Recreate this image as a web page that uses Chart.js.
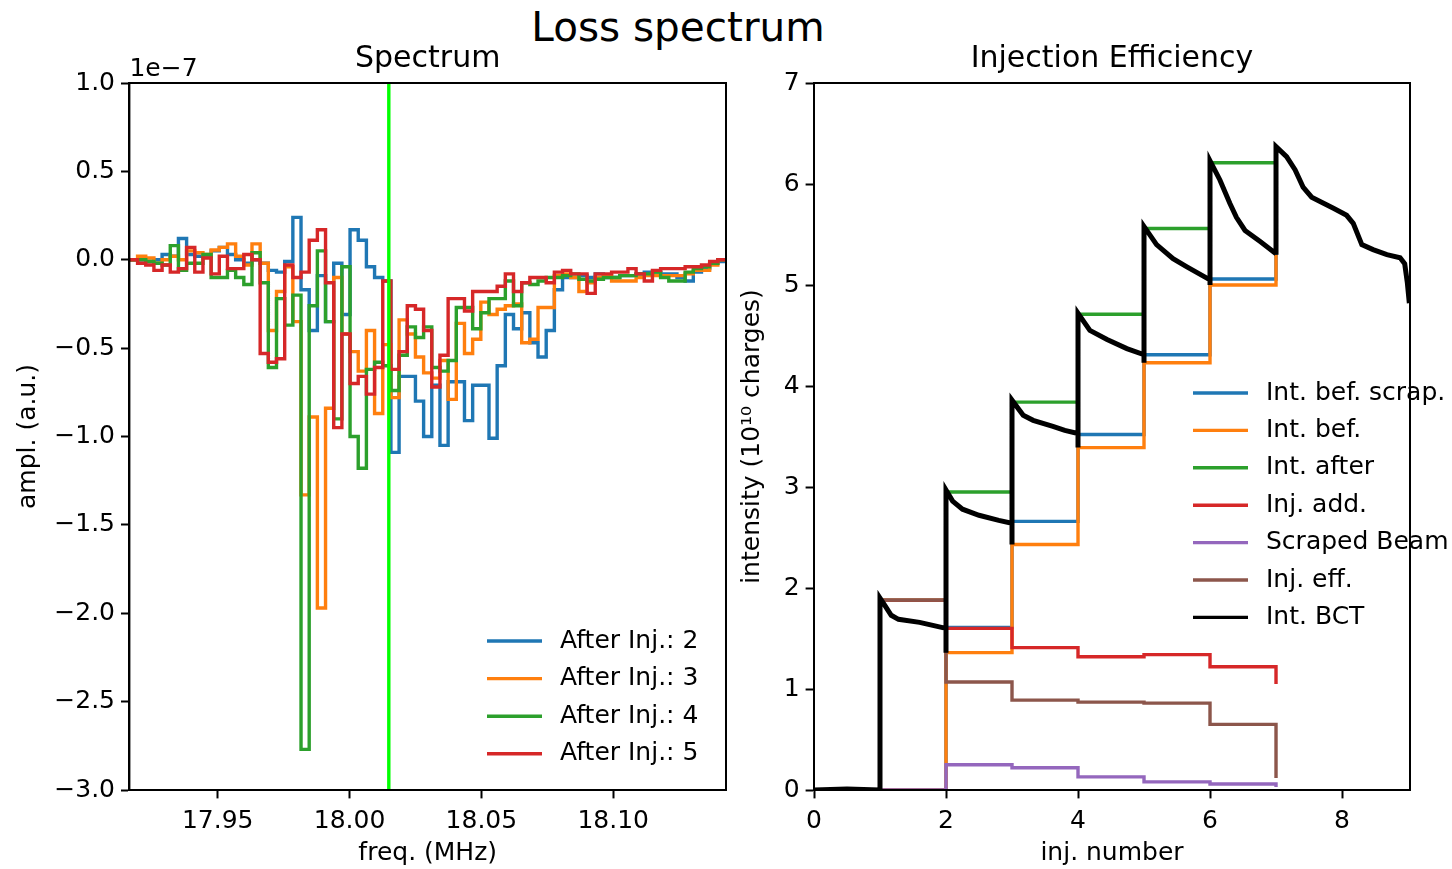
<!DOCTYPE html>
<html>
<head>
<meta charset="utf-8">
<title>Loss spectrum</title>
<script src="https://cdn.jsdelivr.net/npm/chart.js@4.4.0/dist/chart.umd.min.js"></script>
<style>
body { margin: 0; background: #fff; }
#fig { position: relative; width: 1452px; height: 869px; overflow: hidden; font-family: "DejaVu Sans", sans-serif; }
#suptitle { position: absolute; left: 0; top: 7px; width: 1356px; text-align: center; font-size: 40.5px; line-height: 1; color: #000; }
#spec { position: absolute; left: 0; top: 0; }
#inj { position: absolute; left: 720px; top: 0; }
</style>
</head>
<body>
<div id="fig">
  <div id="suptitle">Loss spectrum</div>
  <canvas id="spec" width="730" height="869"></canvas>
  <canvas id="inj" width="732" height="869"></canvas>
</div>
<script>
// ---- spectrum: bin edges (MHz) and amplitudes (units of 1e-7) ----
var freqEdges = [
    17.9165, 17.9196, 17.9227, 17.9258, 17.9289, 17.9320, 17.9351, 17.9382, 17.9413, 17.9444,
    17.9475, 17.9506, 17.9537, 17.9568, 17.9599, 17.9630, 17.9661, 17.9692, 17.9723, 17.9754,
    17.9785, 17.9816, 17.9847, 17.9878, 17.9909, 17.9940, 17.9971, 18.0002, 18.0033, 18.0064,
    18.0095, 18.0126, 18.0157, 18.0188, 18.0219, 18.0250, 18.0281, 18.0312, 18.0343, 18.0374,
    18.0405, 18.0436, 18.0467, 18.0498, 18.0529, 18.0560, 18.0591, 18.0622, 18.0653, 18.0684,
    18.0715, 18.0746, 18.0777, 18.0808, 18.0839, 18.0870, 18.0901, 18.0932, 18.0963, 18.0994,
    18.1025, 18.1056, 18.1087, 18.1118, 18.1149, 18.1180, 18.1211, 18.1242, 18.1273, 18.1304,
    18.1335, 18.1366, 18.1397, 18.1428
];
var ampInj2 = [
    0.00, 0.00, -0.01, 0.00, 0.03, 0.02, 0.12, 0.03, 0.02, 0.02,
    0.05, 0.07, 0.03, 0.00, -0.02, 0.00, -0.02, -0.06, -0.07, -0.01,
    0.24, -0.17, -0.40, -0.09, -0.35, -0.02, -0.31, 0.17, 0.11, -0.04,
    -0.10, -0.12, -1.09, -0.66, -0.66, -0.80, -1.00, -0.71, -1.05, -0.69,
    -0.69, -0.91, -0.71, -0.71, -1.01, -0.60, -0.31, -0.39, -0.30, -0.47,
    -0.55, -0.40, -0.17, -0.10, -0.10, -0.09, -0.10, -0.08, -0.10, -0.10,
    -0.09, -0.09, -0.08, -0.07, -0.07, -0.08, -0.08, -0.10, -0.12, -0.07,
    -0.05, -0.02, -0.01
];
var ampInj3 = [
    0.00, 0.02, 0.01, -0.02, 0.00, 0.02, 0.00, 0.05, 0.04, 0.03,
    0.055, 0.07, 0.09, 0.02, -0.03, 0.09, -0.02, -0.40, -0.18, -0.04,
    -0.35, -1.33, -0.89, -1.97, -0.84, -0.10, -0.42, -0.52, -0.63, -0.40,
    -0.87, -0.48, -0.78, -0.34, -0.42, -0.55, -0.64, -0.67, -0.57, -0.79,
    -0.36, -0.53, -0.45, -0.24, -0.31, -0.28, -0.26, -0.25, -0.47, -0.45,
    -0.27, -0.27, -0.09, -0.08, -0.10, -0.18, -0.13, -0.10, -0.09, -0.12,
    -0.12, -0.12, -0.10, -0.09, -0.09, -0.09, -0.09, -0.09, -0.08, -0.06,
    -0.06, -0.03, 0.00
];
var ampInj4 = [
    0.00, 0.00, -0.01, -0.02, -0.03, 0.08, -0.06, -0.02, -0.02, 0.03,
    -0.10, -0.10, -0.06, -0.10, -0.14, 0.04, -0.13, -0.61, -0.22, -0.37,
    -0.20, -2.77, -0.26, 0.05, -0.35, -0.90, -0.04, -1.00, -1.18, -0.62,
    -0.58, -0.60, -0.74, -0.54, -0.38, -0.44, -0.38, -0.61, -0.63, -0.57,
    -0.27, -0.27, -0.39, -0.30, -0.22, -0.22, -0.12, -0.26, -0.13, -0.14,
    -0.12, -0.10, -0.10, -0.09, -0.08, -0.11, -0.12, -0.11, -0.10, -0.10,
    -0.09, -0.09, -0.08, -0.08, -0.07, -0.10, -0.12, -0.12, -0.07, -0.05,
    -0.04, -0.02, 0.00
];
var ampInj5 = [
    0.00, -0.02, -0.03, -0.06, -0.03, -0.07, -0.05, 0.07, -0.07, 0.01,
    -0.08, 0.02, -0.05, -0.05, 0.03, 0.00, -0.53, -0.58, -0.56, -0.03,
    -0.10, -0.07, 0.11, 0.17, -0.13, -0.95, -0.42, -0.70, -0.66, -0.76,
    -0.61, -0.12, -0.62, -0.52, -0.26, -0.28, -0.40, -0.72, -0.54, -0.22,
    -0.22, -0.29, -0.18, -0.18, -0.18, -0.15, -0.08, -0.18, -0.13, -0.10,
    -0.10, -0.13, -0.07, -0.06, -0.08, -0.08, -0.19, -0.08, -0.08, -0.07,
    -0.07, -0.05, -0.08, -0.12, -0.06, -0.05, -0.05, -0.05, -0.04, -0.04,
    -0.03, -0.01, 0.00
];
var markerFreq = 18.0149;
var specXTicks = [17.95, 18.00, 18.05, 18.10];

// ---- injection efficiency: per-injection steps (1e10 charges) ----
var injNumber = [1, 2, 3, 4, 5, 6, 7];
var intBefScrap = [0, 1.61, 2.66, 3.52, 4.31, 5.06, 5.33];
var intBef      = [0, 1.36, 2.43, 3.39, 4.23, 5.00, 5.30];
var intAfter    = [1.88, 2.95, 3.84, 4.71, 5.56, 6.21, 6.36];
var injAdd      = [1.88, 1.60, 1.41, 1.32, 1.34, 1.22, 1.05];
var scrapedBeam = [0, 0.25, 0.22, 0.13, 0.08, 0.06, 0.03];
var injEff      = [1.88, 1.07, 0.89, 0.87, 0.86, 0.65, 0.12];

// BCT trace
var bctX = [0, 0.5, 1.0, 1.0, 1.08, 1.17, 1.28, 1.6, 1.8, 2.0,
    2.0, 2.0, 2.1, 2.25, 2.5, 2.8, 3.0,
    3.0, 3.0, 3.17, 3.32, 3.62, 3.8, 4.0,
    4.0, 4.0, 4.18, 4.44, 4.74, 5.0,
    5.0, 5.0, 5.19, 5.44, 5.65, 6.0,
    6.0, 6.0, 6.15, 6.3, 6.4, 6.53, 6.76, 7.0,
    7.0, 7.0, 7.16, 7.29, 7.41, 7.54, 7.72, 7.87, 8.07, 8.17, 8.3, 8.47, 8.68, 8.88, 8.95, 8.99, 9.02];
var bctY = [0, 0.01, 0.0, 1.9, 1.82, 1.73, 1.69, 1.66, 1.63, 1.6,
    1.36, 2.97, 2.86, 2.78, 2.72, 2.67, 2.64,
    2.43, 3.86, 3.71, 3.66, 3.6, 3.56, 3.53,
    3.39, 4.72, 4.55, 4.46, 4.37, 4.31,
    4.23, 5.58, 5.4, 5.26, 5.18, 5.05,
    5.0, 6.23, 6.04, 5.81, 5.67, 5.54, 5.43, 5.31,
    5.3, 6.37, 6.27, 6.14, 5.97, 5.87, 5.81, 5.76, 5.69, 5.61, 5.4, 5.35, 5.3, 5.27, 5.21, 5.02, 4.82];
var injXTicks = [0, 2, 4, 6, 8];

var C = {
    blue: '#1f77b4', orange: '#ff7f0e', green: '#2ca02c', red: '#d62728',
    purple: '#9467bd', brown: '#8c564b', black: '#000000', lime: '#00ff00'
};
var LW = 3.4;

Chart.defaults.font.family = '"DejaVu Sans", sans-serif';
Chart.defaults.font.size = 25;
Chart.defaults.color = '#000';

function stepPoints(xs, ys) {
    // one point per bin start, last value carried to the closing edge
    return xs.map(function(x, i) { return { x: x, y: ys[Math.min(i, ys.length - 1)] }; });
}
function zipPoints(xs, ys) {
    return xs.map(function(x, i) { return { x: x, y: ys[i] }; });
}
function minusSign(s) { return String(s).replace('-', '\u2212'); }

// black box around the plot area
var framePlugin = {
    id: 'frame',
    afterDatasetsDraw: function(chart) {
        var a = chart.chartArea, ctx = chart.ctx;
        ctx.save();
        ctx.strokeStyle = '#000';
        ctx.lineWidth = 2;
        ctx.strokeRect(a.left, a.top, a.right - a.left, a.bottom - a.top);
        ctx.restore();
    }
};

// legend: short line sample + label, one row per labelled dataset
var lineLegend = {
    id: 'lineLegend',
    afterDraw: function(chart, args, opts) {
        var ctx = chart.ctx, y = opts.top;
        ctx.save();
        ctx.font = '25px "DejaVu Sans"';
        ctx.textBaseline = 'middle';
        ctx.fillStyle = '#000';
        chart.data.datasets.forEach(function(ds) {
            if (!ds.label) return;
            ctx.strokeStyle = ds.borderColor;
            ctx.lineWidth = opts.lineWidth;
            ctx.beginPath();
            ctx.moveTo(opts.left, y);
            ctx.lineTo(opts.left + opts.lineLen, y);
            ctx.stroke();
            ctx.fillText(ds.label, opts.left + opts.lineLen + opts.gap, y);
            y += opts.rowH;
        });
        ctx.restore();
    }
};

// scale exponent written above the y axis
var offsetText = {
    id: 'offsetText',
    afterDraw: function(chart, args, opts) {
        if (!opts.text) return;
        var ctx = chart.ctx;
        ctx.save();
        ctx.font = '25px "DejaVu Sans"';
        ctx.textBaseline = 'alphabetic';
        ctx.fillStyle = '#000';
        ctx.fillText(opts.text, chart.chartArea.left, opts.y);
        ctx.restore();
    }
};

function axisGrid() {
    return { drawOnChartArea: false, drawTicks: true, tickLength: 8.4, tickWidth: 2, tickColor: '#000' };
}

function lineDs(label, pts, color, width, stepped, order) {
    return {
        label: label, data: pts, borderColor: color, backgroundColor: color,
        borderWidth: width, pointRadius: 0, fill: false, stepped: stepped,
        tension: 0, order: order
    };
}

new Chart(document.getElementById('spec'), {
    type: 'line',
    data: {
        datasets: [
            lineDs('After Inj.: 2', stepPoints(freqEdges, ampInj2), C.blue, LW, true, 4),
            lineDs('After Inj.: 3', stepPoints(freqEdges, ampInj3), C.orange, LW, true, 3),
            lineDs('After Inj.: 4', stepPoints(freqEdges, ampInj4), C.green, LW, true, 2),
            lineDs('After Inj.: 5', stepPoints(freqEdges, ampInj5), C.red, LW, true, 1),
            { data: [{ x: markerFreq, y: -3 }, { x: markerFreq, y: 1 }], borderColor: C.lime,
              borderWidth: 3.4, pointRadius: 0, fill: false, order: 0 }
        ]
    },
    options: {
        responsive: false, animation: false, devicePixelRatio: 1, events: [],
        layout: { padding: { left: 0, right: 4, top: 0, bottom: 0 } },
        plugins: {
            legend: { display: false }, tooltip: { enabled: false },
            title: { display: true, text: 'Spectrum', fullSize: false, color: '#000',
                     font: { size: 30, weight: 'normal' }, padding: { top: 41, bottom: 6 } },
            lineLegend: { left: 487, top: 641, rowH: 37.6, lineLen: 55, gap: 18, lineWidth: LW },
            offsetText: { text: '1e\u22127', y: 76 }
        },
        scales: {
            x: {
                type: 'linear', min: freqEdges[0], max: freqEdges[freqEdges.length - 1],
                grid: axisGrid(), border: { color: '#000', width: 2 },
                afterBuildTicks: function(s) { s.ticks = specXTicks.map(function(v) { return { value: v }; }); },
                afterFit: function(s) { s.height = 79; },
                ticks: { padding: 8, maxRotation: 0, autoSkip: false, callback: function(v) { return v.toFixed(2); } },
                title: { display: true, text: 'freq. (MHz)', padding: { top: 0, bottom: 1 } }
            },
            y: {
                min: -3, max: 1,
                grid: axisGrid(), border: { color: '#000', width: 2 },
                afterFit: function(s) { s.width = 129.4; },
                ticks: { stepSize: 0.5, padding: 6, callback: function(v) { return minusSign(v.toFixed(1)); } },
                title: { display: true, text: 'ampl. (a.u.)', padding: { top: 13, bottom: 0 } }
            }
        }
    },
    plugins: [framePlugin, lineLegend, offsetText]
});

new Chart(document.getElementById('inj'), {
    type: 'line',
    data: {
        datasets: [
            lineDs('Int. bef. scrap.', zipPoints(injNumber, intBefScrap), C.blue, LW, true, 6),
            lineDs('Int. bef.', zipPoints(injNumber, intBef), C.orange, LW, true, 5),
            lineDs('Int. after', zipPoints(injNumber, intAfter), C.green, LW, true, 4),
            lineDs('Inj. add.', zipPoints(injNumber, injAdd), C.red, LW, true, 3),
            lineDs('Scraped Beam', zipPoints(injNumber, scrapedBeam), C.purple, LW, true, 2),
            lineDs('Inj. eff.', zipPoints(injNumber, injEff), C.brown, LW, true, 1),
            lineDs('Int. BCT', zipPoints(bctX, bctY), C.black, 5, false, 0)
        ]
    },
    options: {
        responsive: false, animation: false, devicePixelRatio: 1, events: [],
        layout: { padding: { left: 0, right: 42, top: 0, bottom: 0 } },
        plugins: {
            legend: { display: false }, tooltip: { enabled: false },
            title: { display: true, text: 'Injection Efficiency', fullSize: false, color: '#000',
                     font: { size: 30, weight: 'normal' }, padding: { top: 41, bottom: 6 } },
            lineLegend: { left: 473, top: 393, rowH: 37.4, lineLen: 55, gap: 18, lineWidth: LW }
        },
        scales: {
            x: {
                type: 'linear', min: 0, max: 9.03,
                grid: axisGrid(), border: { color: '#000', width: 2 },
                afterBuildTicks: function(s) { s.ticks = injXTicks.map(function(v) { return { value: v }; }); },
                afterFit: function(s) { s.height = 79; },
                ticks: { padding: 8, maxRotation: 0, autoSkip: false },
                title: { display: true, text: 'inj. number', padding: { top: 0, bottom: 1 } }
            },
            y: {
                min: 0, max: 7,
                grid: axisGrid(), border: { color: '#000', width: 2 },
                afterFit: function(s) { s.width = 94; },
                ticks: { stepSize: 1, padding: 6 },
                title: { display: true, text: 'intensity (10\u00b9\u2070 charges)', padding: { top: 17, bottom: 0 } }
            }
        }
    },
    plugins: [framePlugin, lineLegend]
});
</script>
</body>
</html>
